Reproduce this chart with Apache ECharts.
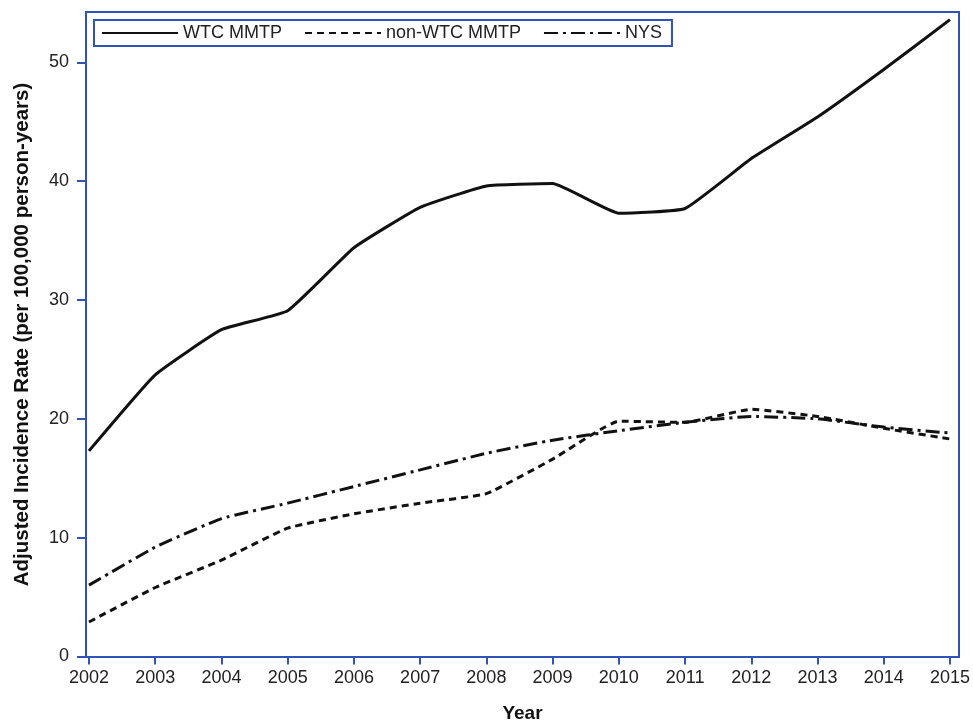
<!DOCTYPE html>
<html><head><meta charset="utf-8">
<script src="https://cdn.jsdelivr.net/npm/echarts@6/dist/echarts.min.js"></script>
<style>html,body{margin:0;padding:0;background:#fff}#c{width:973px;height:724px}</style>
</head><body><div id="c"></div>
<script>
const years = [2002,2003,2004,2005,2006,2007,2008,2009,2010,2011,2012,2013,2014,2015];
const wtc = [17.3,23.7,27.5,29.1,34.4,37.8,39.6,39.8,37.3,37.7,41.9,45.4,49.4,53.6];
const nonWtc = [2.9,5.8,8.1,10.8,12.0,12.9,13.7,16.6,19.8,19.7,20.8,20.2,19.2,18.3];
const nys = [6.0,9.2,11.6,12.9,14.3,15.7,17.1,18.2,19.0,19.7,20.2,20.0,19.3,18.8];
const yTicks = [0,10,20,30,40,50];
const seriesNames = ['WTC MMTP','non-WTC MMTP','NYS'];

const blue = '#2f54b8';
const font = 'Liberation Sans, Arial, sans-serif';
function pairs(v){ return years.map((y,i)=>[y,v[i]]); }
const chart = echarts.init(document.getElementById('c'));
chart.setOption({
  animation:false,
  backgroundColor:'#fff',
  grid:{left:86,top:12,right:14,bottom:67,show:true,borderColor:blue,borderWidth:2,backgroundColor:'transparent',outerBoundsMode:'none',containLabel:false},
  legend:{
    left:94, top:20, orient:'horizontal',
    borderColor:blue, borderWidth:2, padding:[4,10,4,7],
    itemWidth:76, itemHeight:14, itemGap:22,
    itemStyle:{opacity:0},
    textStyle:{fontFamily:font,fontSize:18,color:'#222'},
    data:seriesNames
  },
  xAxis:{
    type:'value', min:2001.955, max:2015.136,
    name:'Year', nameLocation:'middle', nameGap:47,
    nameTextStyle:{fontFamily:font,fontSize:19,fontWeight:'bold',color:'#111'},
    axisLine:{show:true,lineStyle:{color:blue,width:2}},
    axisTick:{show:true,length:8,lineStyle:{color:blue,width:2},customValues:years},
    axisLabel:{fontFamily:font,fontSize:18,color:'#222',margin:12,customValues:years,formatter:v=>String(Math.round(v))},
    splitLine:{show:false}
  },
  yAxis:{
    type:'value', min:-0.05, max:54.24,
    name:'Adjusted Incidence Rate (per 100,000 person-years)', nameLocation:'middle', nameGap:53,
    nameTextStyle:{fontFamily:font,fontSize:20.5,fontWeight:'bold',color:'#111'},
    axisLine:{show:true,lineStyle:{color:blue,width:2}},
    axisTick:{show:true,length:9,lineStyle:{color:blue,width:2},customValues:yTicks},
    axisLabel:{fontFamily:font,fontSize:18,color:'#222',margin:17,customValues:yTicks,formatter:v=>String(Math.round(v))},
    splitLine:{show:false}
  },
  series:[
    {name:seriesNames[0],type:'line',data:pairs(wtc),symbol:'none',smooth:0.12,
     lineStyle:{color:'#111',width:3,type:'solid'},itemStyle:{color:'#111'}},
    {name:seriesNames[1],type:'line',data:pairs(nonWtc),symbol:'none',smooth:0.12,
     lineStyle:{color:'#111',width:3,type:[7,5]},itemStyle:{color:'#111'}},
    {name:seriesNames[2],type:'line',data:pairs(nys),symbol:'none',smooth:0.12,
     lineStyle:{color:'#111',width:3,type:[14,5,3,5]},itemStyle:{color:'#111'}}
  ]
});
</script></body></html>
